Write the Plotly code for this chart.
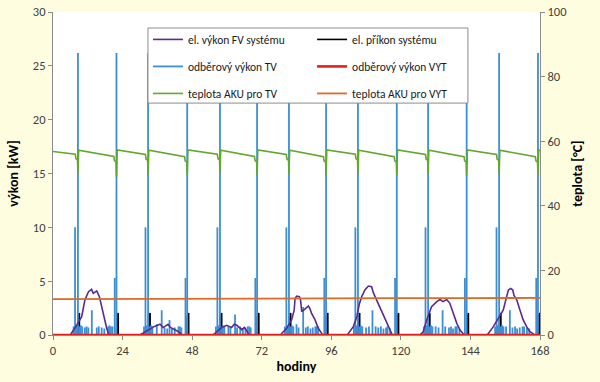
import plotly.graph_objects as go

# ---------------- data ----------------
# el. výkon FV systému [kW] - daily knots (hour, kW); None separates the days
fv_hours = [6.0, 6.4, 8.2, 9.9, 11.0, 12.2, 13.3, 13.9, 15.1, 16.0, 16.8, 17.4, 17.9, 18.5, 19.1, 19.5, None,
            30.0, 31.7, 33.5, 35.0, 36.9, 38.0, 38.6, 39.7, 40.5, 41.4, 42.7, 43.8, 44.5, None,
            55.2, 56.5, 58.2, 59.9, 61.6, 62.5, 63.4, 65.1, 66.0, 66.8, 67.6, None,
            78.6, 78.9, 80.6, 82.3, 83.2, 83.5, 84.1, 85.0, 85.4, 85.8, 86.9, 88.1, 88.7, 89.2, 90.4, 91.5, 92.7, 93.1, None,
            101.5, 101.9, 103.6, 104.8, 105.7, 106.5, 107.6, 108.8, 109.9, 110.5, 111.1, 112.2, 113.4, 114.5, 115.7, 116.8, 117.2, None,
            126.6, 127.7, 128.9, 130.6, 132.4, 133.5, 134.6, 135.8, 136.9, 138.1, 139.3, 140.4, 141.5, 141.9, None,
            149.8, 150.2, 151.9, 153.6, 155.3, 156.5, 157.1, 157.9, 158.6, 159.0, 160.0, 161.1, 162.2, 163.4, 164.5, 165.7, 166.1]
fv_kw = [0, 0.15, 0.93, 1.7, 3.25, 4.0, 4.24, 3.87, 4.1, 3.56, 2.63, 1.7, 1.1, 0.65, 0.15, 0, None,
         0, 0.3, 0.6, 0.8, 1.0, 0.7, 0.8, 1.0, 0.7, 0.6, 0.4, 0.2, 0, None,
         0, 0.3, 0.7, 0.9, 0.7, 1.0, 0.9, 0.5, 0.7, 0.4, 0, None,
         0, 0.15, 0.62, 1.4, 2.3, 3.4, 3.6, 3.56, 3.25, 2.17, 2.4, 2.7, 2.4, 2.0, 1.4, 0.62, 0.15, 0, None,
         0, 0.15, 0.78, 1.7, 2.9, 3.56, 4.18, 4.55, 4.49, 3.93, 3.56, 2.94, 2.17, 1.4, 0.78, 0.15, 0, None,
         0, 0.3, 1.4, 2.63, 3.1, 3.3, 3.1, 3.3, 2.94, 2.0, 1.08, 0.46, 0.1, 0, None,
         0, 0.15, 0.78, 1.55, 2.3, 3.56, 4.18, 4.33, 4.18, 3.7, 3.25, 2.3, 1.4, 0.78, 0.3, 0.1, 0]

# el. příkon systému [kW] - heat pump runs (end hour of each run, peak)
hp_end_hours = [9.1, 22.5, 33.5, 46.8, 58.2, 71.0, 82.0, 94.8, 105.8, 119.2, 130.0, 143.3, 154.5, 167.9]
hp_start_kw = 1.7
hp_end_kw = 2.05

# odběrový výkon TV [kW] - draw-off events (hour, kW)
tv_hours = [
    # day 1
    7.1, 7.6, 8.1, 8.6, 9.1, 9.6, 10.1, 11.0, 11.6, 12.2, 13.4, 15.1, 15.8, 16.8, 17.7,
    19.0, 19.5, 20.0, 20.5, 21.3, 21.9,
    # day 2
    31.4, 31.9, 32.3, 32.8, 33.3, 33.8, 34.3, 35.8, 37.5, 38.5, 39.4, 40.2, 41.0, 42.0,
    43.3, 43.8, 44.3, 45.7, 46.3,
    # day 3
    56.2, 56.7, 57.1, 57.6, 58.1, 58.6, 59.1, 60.5, 61.2, 62.8, 63.5, 64.6, 65.5, 66.4,
    67.2, 67.7, 68.2, 69.8, 70.4,
    # day 4
    80.0, 80.5, 80.9, 81.4, 81.9, 82.4, 82.9, 84.0, 84.7, 86.3, 87.2, 87.9, 88.8, 89.6,
    90.5, 91.0, 91.5, 93.6, 94.2,
    # day 5
    103.8, 104.3, 104.7, 105.2, 105.7, 106.2, 106.7, 108.0, 109.0, 110.2, 111.3, 112.2, 113.1, 114.0,
    114.9, 115.4, 116.3, 118.0, 118.6,
    # day 6
    128.0, 128.5, 128.9, 129.4, 129.9, 130.4, 130.9, 132.0, 133.0, 134.4, 135.3, 136.6, 137.3, 138.0,
    138.8, 139.3, 140.2, 142.1, 142.7,
    # day 7
    152.5, 153.0, 153.4, 153.9, 154.4, 154.9, 155.4, 156.3, 157.6, 158.5, 159.4, 160.1, 161.0, 162.0,
    162.5, 163.5, 164.3, 166.7, 167.3,
]
tv_kw = [
    0.8, 10.0, 0.9, 26.2, 0.8, 0.9, 0.8, 0.7, 0.8, 0.7, 2.3, 0.7, 0.8, 0.7, 0.6,
    0.8, 0.9, 0.8, 0.8, 5.3, 26.2,
    0.8, 10.0, 0.9, 26.2, 0.8, 0.9, 0.8, 1.0, 2.3, 0.7, 0.6, 1.4, 0.6, 0.7,
    0.8, 0.8, 0.7, 5.3, 26.2,
    0.8, 10.0, 0.9, 26.2, 0.8, 0.9, 0.8, 0.8, 0.7, 1.9, 0.7, 0.8, 0.6, 0.7,
    0.8, 0.8, 0.7, 5.3, 26.2,
    0.8, 10.0, 0.9, 26.2, 0.8, 0.9, 0.8, 1.0, 0.7, 2.6, 0.7, 0.8, 0.6, 0.7,
    0.8, 0.8, 0.8, 5.3, 26.2,
    0.8, 10.0, 0.9, 26.2, 0.8, 0.9, 0.8, 0.7, 0.8, 2.3, 0.8, 0.7, 0.8, 0.6,
    0.7, 0.8, 0.6, 5.3, 26.2,
    0.8, 10.0, 0.9, 26.2, 0.8, 0.9, 0.8, 0.8, 0.7, 2.3, 0.8, 0.7, 0.8, 0.6,
    0.8, 0.8, 0.6, 5.3, 26.2,
    0.8, 10.0, 0.9, 26.2, 0.8, 0.9, 0.8, 0.8, 2.3, 0.7, 0.8, 0.6, 0.7, 0.8,
    0.8, 0.7, 0.6, 5.3, 26.2,
]

# odběrový výkon VYT [kW]
vyt_hours = [0, 168]
vyt_kw = [0, 0]

# teplota AKU pro TV [°C] - recharge events
aku_tv_event_hours = [8.6, 21.9, 32.8, 46.3, 57.6, 70.4, 81.4, 94.2, 105.2, 118.6, 129.4, 142.7, 153.9, 167.3]
aku_tv_pre = [56.0, 55.3, 55.9, 55.2, 56.0, 55.3, 55.9, 55.2, 56.0, 55.2, 55.9, 55.2, 55.9, 55.2]
aku_tv_step = [54.6, 54.0, 54.5, 53.9, 54.6, 54.0, 54.5, 53.9, 54.6, 53.9, 54.5, 53.9, 54.5, 53.9]
aku_tv_min = [49.8, 49.0, 49.8, 49.3, 50.0, 49.3, 49.8, 49.3, 49.8, 49.3, 49.8, 49.3, 49.8, 49.3]
aku_tv_post = [57.2, 57.3, 57.2, 57.3, 57.2, 57.3, 57.2, 57.3, 57.2, 57.3, 57.2, 57.3, 57.2, 57.3]
aku_tv_start = 56.8
aku_tv_end = 57.2

# teplota AKU pro VYT [°C]
aku_vyt_hours = [0, 24, 48, 72, 96, 120, 144, 168]
aku_vyt_temp = [11.1, 11.2, 11.2, 11.3, 11.3, 11.4, 11.4, 11.5]

x_ticks = [0, 24, 48, 72, 96, 120, 144, 168]

# ---------------- build line geometry from the data ----------------
hp_x, hp_y = [], []
for t in hp_end_hours:
    hp_x += [t - 0.55, t - 0.5, t, t + 0.02, None]
    hp_y += [0, hp_start_kw, hp_end_kw, 0, None]

tv_x, tv_y = [], []
for t, v in zip(tv_hours, tv_kw):
    tv_x += [t, t, None]
    tv_y += [0, v, None]

g_x, g_y = [0], [aku_tv_start]
for t, pre, step, mn, post in zip(aku_tv_event_hours, aku_tv_pre, aku_tv_step, aku_tv_min, aku_tv_post):
    g_x += [t - 0.9, t - 0.7, t - 0.15, t, t + 0.25]
    g_y += [pre, step, step - 0.4, mn, post]
g_x.append(168)
g_y.append(aku_tv_end)

# ---------------- figure ----------------
FONT = "Carlito, Lato, 'Liberation Sans', sans-serif"
BG = "#fffde0"
C_FV = "#5b2a90"
C_HP = "#000000"
C_TV = "#3d8fd4"
C_VYT = "#e0201c"
C_GTV = "#62a82c"
C_GVYT = "#dd6a25"

fig = go.Figure()
fig.add_trace(go.Scatter(x=hp_x, y=hp_y, mode="lines", name="el. příkon systému",
                         line=dict(color=C_HP, width=1.6), connectgaps=False, legend="legend2",
                         legendgroup="b1", legendrank=1))
fig.add_trace(go.Scatter(x=tv_x, y=tv_y, mode="lines", name="odběrový výkon TV",
                         line=dict(color=C_TV, width=1.8), connectgaps=False, legend="legend",
                         legendgroup="a2", legendrank=2))
fig.add_trace(go.Scatter(x=fv_hours, y=fv_kw, mode="lines", name="el. výkon FV systému",
                         line=dict(color=C_FV, width=1.6), connectgaps=False, legend="legend",
                         legendgroup="a1", legendrank=1))
fig.add_trace(go.Scatter(x=g_x, y=g_y, mode="lines", name="teplota AKU pro TV", yaxis="y2",
                         line=dict(color=C_GTV, width=1.6), legend="legend",
                         legendgroup="a3", legendrank=3))
fig.add_trace(go.Scatter(x=aku_vyt_hours, y=aku_vyt_temp, mode="lines", name="teplota AKU pro VYT",
                         yaxis="y2", line=dict(color=C_GVYT, width=1.8), legend="legend2",
                         legendgroup="b3", legendrank=3))
fig.add_trace(go.Scatter(x=vyt_hours, y=vyt_kw, mode="lines", name="odběrový výkon VYT",
                         line=dict(color=C_VYT, width=2.6), legend="legend2",
                         legendgroup="b2", legendrank=2))

axis_common = dict(showgrid=False, zeroline=False, showline=True, linecolor="#8c8c8c",
                   linewidth=1, ticks="outside", ticklen=4, tickcolor="#8c8c8c", automargin=False,
                   tickfont=dict(family=FONT, size=12.5, color="#404040"))

legend_common = dict(bgcolor="rgba(0,0,0,0)", borderwidth=0, orientation="v",
                     traceorder="grouped", tracegroupgap=8,
                     font=dict(family=FONT, size=11.5, color="#1a1a1a"),
                     xanchor="left", yanchor="top", itemwidth=30)

fig.update_layout(
    width=600, height=382,
    paper_bgcolor=BG, plot_bgcolor="#ffffff",
    margin=dict(l=53, r=60, t=12, b=47, autoexpand=False),
    font=dict(family=FONT),
    xaxis=dict(range=[0, 168], tickvals=x_ticks, **axis_common,
               title=dict(text="<b>hodiny</b>", font=dict(family=FONT, size=14, color="#000"), standoff=4)),
    yaxis=dict(range=[0, 30], dtick=5, **axis_common,
               title=dict(text="<b>výkon [kW]</b>", font=dict(family=FONT, size=14, color="#000"), standoff=10)),
    yaxis2=dict(range=[0, 100], dtick=20, overlaying="y", side="right", **axis_common,
                title=dict(text="<b>teplota [°C]</b>", font=dict(family=FONT, size=14, color="#000"), standoff=6)),
    legend=dict(x=0.195, y=0.96, **legend_common),
    legend2=dict(x=0.532, y=0.96, **legend_common),
    shapes=[dict(type="rect", xref="paper", yref="paper", x0=0.195, x1=0.852, y0=0.718, y1=0.9505,
                 fillcolor="#ffffff", line=dict(color="#8c8c8c", width=1), layer="above")],
    showlegend=True,
)

fig.write_html(
    "out.html",
    config={"displayModeBar": False},
    post_script="document.body.style.margin='0';document.body.style.background='" + BG + "';",
)
